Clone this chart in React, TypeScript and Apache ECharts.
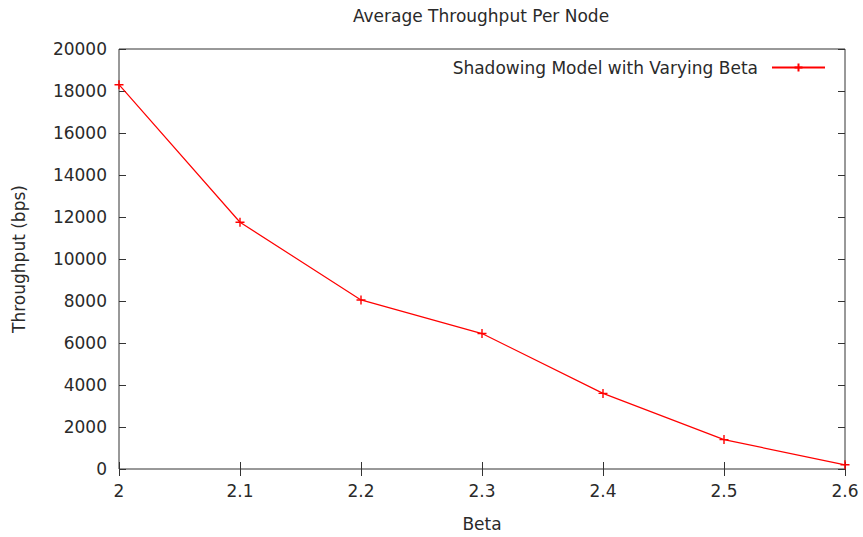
import React, { useEffect, useRef } from "react";
import * as echarts from "echarts";

// Path-loss exponent values and the measured average throughput per node
const betaValues = [2.0, 2.1, 2.2, 2.3, 2.4, 2.5, 2.6];
const throughputBps = [18300, 11750, 8050, 6450, 3600, 1400, 200];

const seriesName = "Shadowing Model with Varying Beta";
const chartTitle = "Average Throughput Per Node";
const xAxisName = "Beta";
const yAxisName = "Throughput (bps)";

const FONT = "DejaVu Sans";
const FS = 17;
const TEXT = "#2a2a2a";
const AXIS = "#333";
const PLUS = "path://M5,0 L5,10 M0,5 L10,5";

export default function App() {
  const ref = useRef<HTMLDivElement>(null);

  useEffect(() => {
    if (!ref.current) return;
    const chart = echarts.init(ref.current, undefined, { renderer: "svg" });

    const tickStyle = { show: true, inside: true, length: 7, lineStyle: { color: AXIS, width: 1 } };

    chart.setOption({
      animation: false,
      backgroundColor: "#fff",
      title: {
        text: chartTitle,
        left: 476,
        top: 2,
        textAlign: "center",
        textStyle: { fontFamily: FONT, fontSize: FS, fontWeight: "normal", color: TEXT },
      },
      legend: {
        right: 32,
        top: 54,
        align: "right",
        itemWidth: 53,
        itemHeight: 10,
        itemGap: 0,
        textStyle: { fontFamily: FONT, fontSize: FS, color: TEXT, padding: [0, 9, 0, 0] },
        data: [{ name: seriesName }],
      },
      grid: {
        left: 119,
        right: 18,
        top: 49,
        bottom: 67,
        show: true,
        borderColor: AXIS,
        borderWidth: 1,
      },
      xAxis: [
        {
          type: "value",
          min: 2,
          max: 2.6,
          interval: 0.1,
          name: xAxisName,
          nameLocation: "middle",
          nameGap: 46,
          nameTextStyle: { fontFamily: FONT, fontSize: FS, color: TEXT },
          axisLine: { show: false },
          axisTick: tickStyle,
          splitLine: { show: false },
          axisLabel: {
            fontFamily: FONT,
            fontSize: FS,
            color: TEXT,
            margin: 13,
            formatter: (v: number) => String(Math.round(v * 10) / 10),
          },
        },
        {
          type: "value",
          position: "top",
          min: 2,
          max: 2.6,
          interval: 0.1,
          axisLine: { show: false },
          axisTick: tickStyle,
          splitLine: { show: false },
          axisLabel: { show: false },
        },
      ],
      yAxis: [
        {
          type: "value",
          min: 0,
          max: 20000,
          interval: 2000,
          name: yAxisName,
          nameLocation: "middle",
          nameGap: 92,
          nameTextStyle: { fontFamily: FONT, fontSize: FS, color: TEXT },
          axisLine: { show: false },
          axisTick: tickStyle,
          splitLine: { show: false },
          axisLabel: {
            fontFamily: FONT,
            fontSize: FS,
            color: TEXT,
            margin: 12,
            formatter: (v: number) => String(v),
          },
        },
        {
          type: "value",
          position: "right",
          min: 0,
          max: 20000,
          interval: 2000,
          axisLine: { show: false },
          axisTick: tickStyle,
          splitLine: { show: false },
          axisLabel: { show: false },
        },
      ],
      series: [
        {
          name: seriesName,
          type: "line",
          data: betaValues.map((b, i) => [b, throughputBps[i]]),
          symbol: PLUS,
          symbolSize: 9,
          showSymbol: true,
          lineStyle: { color: "#ff0000", width: 1.2 },
          itemStyle: { color: "#ff0000", borderColor: "#ff0000", borderWidth: 1.4 },
          clip: false,
        },
      ],
    });

    return () => chart.dispose();
  }, []);

  return (
    <div
      ref={ref}
      style={{ position: "absolute", left: 0, top: 0, width: 863, height: 537 }}
    />
  );
}
